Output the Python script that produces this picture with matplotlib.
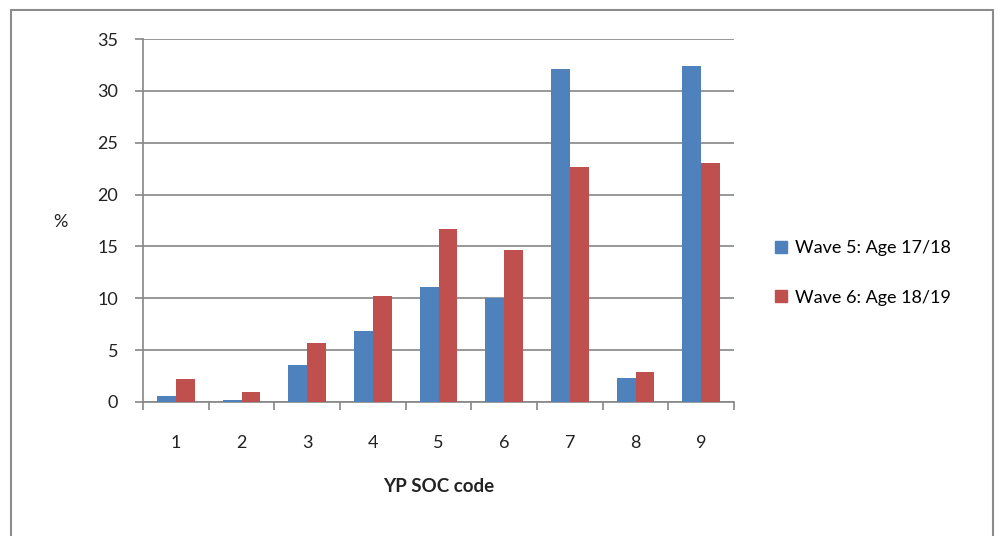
import matplotlib.pyplot as plt
from matplotlib.patches import Rectangle, Patch
import numpy as np

codes = ['1', '2', '3', '4', '5', '6', '7', '8', '9']
wave5 = [0.6, 0.2, 3.6, 6.8, 11.1, 10.0, 32.1, 2.3, 32.4]
wave6 = [2.2, 1.0, 5.7, 10.2, 16.7, 14.7, 22.7, 2.9, 23.0]
labels = ['Wave 5: Age 17/18', 'Wave 6: Age 18/19']
colors = ['#4F81BD', '#C0504D']

plt.rcParams['font.family'] = ['Lato', 'DejaVu Sans']
fig = plt.figure(figsize=(9.97, 5.36), dpi=100)
ax = fig.add_axes([143/997, 134/536, 591/997, 363/536])

x = np.arange(len(codes))
w = 0.285
ax.bar(x - w/2, wave5, w, color=colors[0], zorder=3)
ax.bar(x + w/2, wave6, w, color=colors[1], zorder=3)

ax.set_xlim(-0.5, len(codes) - 0.5)
ax.set_ylim(0, 35)
ax.set_yticks(range(0, 36, 5))
ax.grid(axis='y', color='#868686', linewidth=1.2, zorder=1)

# x: marks at category edges, labels at centres
ax.set_xticks(x)
ax.set_xticklabels(codes)
ax.set_xticks(np.arange(-0.5, len(codes)), minor=True)
ax.tick_params(axis='x', which='major', length=0, pad=24, labelsize=13, colors='#222222')
ax.tick_params(axis='x', which='minor', length=6, width=1.2, color='#868686')
ax.tick_params(axis='y', length=6, width=1.2, color='#868686', pad=12, labelsize=13, labelcolor='#222222')

for s in ['top', 'right']:
    ax.spines[s].set_visible(False)
for s in ['left', 'bottom']:
    ax.spines[s].set_color('#868686')
    ax.spines[s].set_linewidth(1.2)

ax.set_xlabel('YP SOC code', fontsize=13.5, fontweight='bold', labelpad=19, color='#222222')
fig.text(60/997, 1 - 222/536, '%', fontsize=13, ha='center', va='center', color='#222222')

handles = [Patch(color=c) for c in colors]
fig.legend(handles, labels, loc='center left', bbox_to_anchor=(759/997, 1 - 273/536),
           frameon=False, fontsize=13, handlelength=0.65, handleheight=0.65,
           handletextpad=0.45, labelspacing=1.85)

fig.patches.append(Rectangle((11/997, -0.01), (993-11)/997, 1 - 10/536 + 0.01,
                             transform=fig.transFigure, fill=False,
                             edgecolor='#8c8c8c', linewidth=1.5))

plt.savefig('out.png', dpi=100)
